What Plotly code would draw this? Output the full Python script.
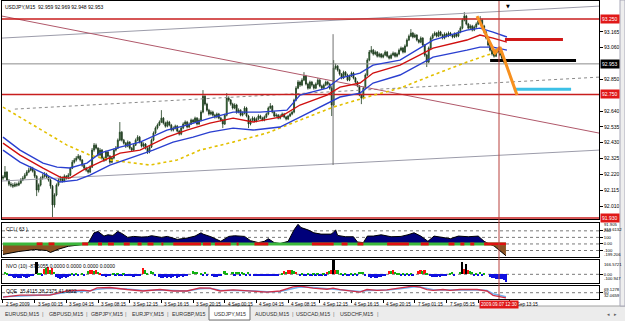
import plotly.graph_objects as go

# ---------------- data ----------------
opens = [92.195, 92.202, 92.235, 92.182, 92.155, 92.149, 92.142, 92.155, 92.149, 92.162,
 92.182, 92.195, 92.215, 92.235, 92.248, 92.261, 92.241, 92.208, 92.116, 92.149,
 92.195, 92.208, 92.221, 92.202, 92.182, 92.142, 92.017, 92.083, 92.149, 92.182,
 92.195, 92.175, 92.208, 92.195, 92.215, 92.261, 92.301, 92.315, 92.328, 92.341,
 92.315, 92.281, 92.261, 92.248, 92.235, 92.268, 92.381, 92.414, 92.394, 92.348,
 92.381, 92.328, 92.315, 92.368, 92.341, 92.301, 92.328, 92.381, 92.394, 92.447,
 92.500, 92.447, 92.427, 92.407, 92.434, 92.394, 92.381, 92.414, 92.447, 92.467,
 92.434, 92.407, 92.421, 92.394, 92.368, 92.401, 92.447, 92.494, 92.527, 92.547,
 92.567, 92.593, 92.560, 92.540, 92.567, 92.547, 92.514, 92.527, 92.540, 92.507,
 92.487, 92.527, 92.554, 92.567, 92.534, 92.554, 92.580, 92.567, 92.593, 92.554,
 92.580, 92.633, 92.739, 92.686, 92.646, 92.620, 92.633, 92.613, 92.600, 92.620,
 92.593, 92.580, 92.554, 92.613, 92.726, 92.713, 92.686, 92.660, 92.680, 92.633,
 92.646, 92.613, 92.626, 92.660, 92.607, 92.554, 92.580, 92.593, 92.573, 92.587,
 92.607, 92.593, 92.580, 92.600, 92.620, 92.660, 92.673, 92.633, 92.607, 92.613,
 92.593, 92.607, 92.620, 92.600, 92.587, 92.607, 92.620, 92.633, 92.713, 92.792,
 92.832, 92.812, 92.845, 92.872, 92.819, 92.792, 92.832, 92.812, 92.792, 92.819,
 92.845, 92.806, 92.792, 92.812, 92.832, 92.819, 92.792, 92.680, 92.925, 92.938,
 92.912, 92.885, 92.859, 92.898, 92.879, 92.845, 92.872, 92.892, 92.859, 92.832,
 92.806, 92.746, 92.726, 92.792, 92.879, 92.978, 93.031, 93.044, 93.018, 93.031,
 93.004, 93.018, 92.998, 93.011, 93.031, 93.004, 92.991, 93.011, 93.024, 93.004,
 93.018, 93.044, 93.058, 93.031, 93.071, 93.111, 93.137, 93.157, 93.131, 93.144,
 93.111, 93.097, 93.124, 93.078, 93.011, 92.965, 93.058, 93.124, 93.144, 93.157,
 93.137, 93.164, 93.144, 93.124, 93.151, 93.137, 93.157, 93.144, 93.131, 93.151,
 93.137, 93.164, 93.190, 93.243, 93.270, 93.217, 93.190, 93.204, 93.177, 93.197,
 93.217, 93.237, 93.243, 93.204, 93.164, 93.124, 93.078, 93.044, 93.018, 93.004,
 93.044, 93.031, 93.011, 92.991, 92.959]

highs = [92.215, 92.275, 92.241, 92.188, 92.168, 92.162, 92.168, 92.165, 92.175, 92.195,
 92.208, 92.228, 92.248, 92.265, 92.275, 92.270, 92.250, 92.215, 92.160, 92.205,
 92.225, 92.235, 92.230, 92.210, 92.190, 92.150, 92.095, 92.160, 92.195, 92.210,
 92.205, 92.220, 92.215, 92.228, 92.270, 92.315, 92.328, 92.341, 92.355, 92.348,
 92.322, 92.290, 92.270, 92.258, 92.280, 92.395, 92.428, 92.425, 92.400, 92.395,
 92.388, 92.338, 92.378, 92.375, 92.348, 92.340, 92.392, 92.408, 92.458, 92.567,
 92.508, 92.455, 92.435, 92.445, 92.440, 92.402, 92.425, 92.458, 92.480, 92.475,
 92.440, 92.432, 92.428, 92.400, 92.412, 92.458, 92.505, 92.538, 92.558, 92.578,
 92.646, 92.600, 92.570, 92.578, 92.575, 92.555, 92.538, 92.550, 92.548, 92.515,
 92.538, 92.565, 92.578, 92.575, 92.565, 92.590, 92.588, 92.603, 92.600, 92.592,
 92.645, 92.779, 92.745, 92.695, 92.655, 92.645, 92.642, 92.622, 92.630, 92.628,
 92.602, 92.588, 92.622, 92.759, 92.738, 92.720, 92.695, 92.692, 92.688, 92.658,
 92.652, 92.638, 92.672, 92.668, 92.615, 92.590, 92.605, 92.602, 92.598, 92.618,
 92.615, 92.602, 92.610, 92.630, 92.670, 92.693, 92.680, 92.640, 92.625, 92.620,
 92.618, 92.630, 92.628, 92.608, 92.615, 92.630, 92.642, 92.722, 92.805, 92.845,
 92.842, 92.858, 92.898, 92.880, 92.828, 92.842, 92.840, 92.820, 92.830, 92.858,
 92.852, 92.815, 92.822, 92.842, 92.840, 92.828, 92.805, 92.978, 92.955, 92.945,
 92.920, 92.892, 92.908, 92.905, 92.888, 92.882, 92.902, 92.900, 92.866, 92.840,
 92.812, 92.755, 92.802, 92.890, 92.990, 93.045, 93.071, 93.052, 93.042, 93.038,
 93.028, 93.025, 93.022, 93.042, 93.038, 93.012, 93.022, 93.035, 93.032, 93.028,
 93.055, 93.068, 93.065, 93.082, 93.122, 93.148, 93.184, 93.165, 93.155, 93.150,
 93.118, 93.135, 93.130, 93.085, 93.020, 93.068, 93.135, 93.155, 93.168, 93.165,
 93.175, 93.172, 93.152, 93.162, 93.160, 93.168, 93.165, 93.152, 93.162, 93.160,
 93.175, 93.202, 93.255, 93.296, 93.278, 93.225, 93.215, 93.212, 93.208, 93.228,
 93.248, 93.270, 93.252, 93.212, 93.172, 93.132, 93.085, 93.052, 93.028, 93.055,
 93.052, 93.038, 93.018, 92.998, 92.969]

lows = [92.182, 92.195, 92.175, 92.142, 92.135, 92.129, 92.135, 92.138, 92.142, 92.155,
 92.175, 92.188, 92.208, 92.228, 92.241, 92.232, 92.195, 92.076, 92.100, 92.140,
 92.185, 92.198, 92.195, 92.172, 92.125, 91.937, 92.000, 92.075, 92.140, 92.170,
 92.165, 92.168, 92.185, 92.188, 92.208, 92.255, 92.292, 92.305, 92.320, 92.305,
 92.270, 92.250, 92.238, 92.225, 92.228, 92.262, 92.370, 92.385, 92.338, 92.340,
 92.318, 92.302, 92.308, 92.332, 92.290, 92.295, 92.320, 92.372, 92.388, 92.440,
 92.438, 92.418, 92.395, 92.400, 92.385, 92.370, 92.375, 92.408, 92.440, 92.425,
 92.398, 92.398, 92.385, 92.355, 92.360, 92.395, 92.440, 92.488, 92.518, 92.540,
 92.560, 92.550, 92.530, 92.532, 92.538, 92.505, 92.505, 92.518, 92.498, 92.478,
 92.480, 92.520, 92.545, 92.525, 92.528, 92.548, 92.558, 92.560, 92.545, 92.548,
 92.572, 92.625, 92.676, 92.636, 92.610, 92.612, 92.603, 92.590, 92.592, 92.585,
 92.570, 92.527, 92.548, 92.605, 92.702, 92.676, 92.650, 92.652, 92.622, 92.625,
 92.605, 92.605, 92.618, 92.598, 92.527, 92.545, 92.572, 92.565, 92.565, 92.580,
 92.585, 92.572, 92.572, 92.592, 92.612, 92.652, 92.625, 92.598, 92.598, 92.585,
 92.585, 92.600, 92.592, 92.578, 92.580, 92.600, 92.612, 92.625, 92.705, 92.785,
 92.800, 92.805, 92.838, 92.810, 92.782, 92.785, 92.802, 92.782, 92.785, 92.812,
 92.798, 92.782, 92.785, 92.805, 92.810, 92.782, 92.607, 92.672, 92.915, 92.902,
 92.875, 92.850, 92.852, 92.870, 92.838, 92.838, 92.865, 92.850, 92.822, 92.798,
 92.738, 92.686, 92.718, 92.785, 92.872, 92.970, 93.022, 93.008, 93.010, 92.995,
 92.995, 92.990, 92.990, 93.004, 92.995, 92.982, 92.984, 93.004, 92.995, 92.996,
 93.010, 93.036, 93.022, 93.024, 93.064, 93.104, 93.130, 93.122, 93.124, 93.102,
 93.088, 93.090, 93.068, 93.000, 92.932, 92.958, 93.050, 93.116, 93.136, 93.128,
 93.130, 93.136, 93.115, 93.116, 93.128, 93.130, 93.136, 93.122, 93.124, 93.128,
 93.130, 93.156, 93.182, 93.235, 93.208, 93.180, 93.182, 93.168, 93.170, 93.190,
 93.210, 93.228, 93.195, 93.155, 93.115, 93.068, 93.035, 93.008, 92.995, 92.998,
 93.022, 93.002, 92.982, 92.955, 92.948]

closes = [92.202, 92.235, 92.182, 92.155, 92.149, 92.142, 92.155, 92.149, 92.162, 92.182,
 92.195, 92.215, 92.235, 92.248, 92.261, 92.241, 92.208, 92.116, 92.149, 92.195,
 92.208, 92.221, 92.202, 92.182, 92.142, 92.017, 92.083, 92.149, 92.182, 92.195,
 92.175, 92.208, 92.195, 92.215, 92.261, 92.301, 92.315, 92.328, 92.341, 92.315,
 92.281, 92.261, 92.248, 92.235, 92.268, 92.381, 92.414, 92.394, 92.348, 92.381,
 92.328, 92.315, 92.368, 92.341, 92.301, 92.328, 92.381, 92.394, 92.447, 92.500,
 92.447, 92.427, 92.407, 92.434, 92.394, 92.381, 92.414, 92.447, 92.467, 92.434,
 92.407, 92.421, 92.394, 92.368, 92.401, 92.447, 92.494, 92.527, 92.547, 92.567,
 92.593, 92.560, 92.540, 92.567, 92.547, 92.514, 92.527, 92.540, 92.507, 92.487,
 92.527, 92.554, 92.567, 92.534, 92.554, 92.580, 92.567, 92.593, 92.554, 92.580,
 92.633, 92.739, 92.686, 92.646, 92.620, 92.633, 92.613, 92.600, 92.620, 92.593,
 92.580, 92.554, 92.613, 92.726, 92.713, 92.686, 92.660, 92.680, 92.633, 92.646,
 92.613, 92.626, 92.660, 92.607, 92.554, 92.580, 92.593, 92.573, 92.587, 92.607,
 92.593, 92.580, 92.600, 92.620, 92.660, 92.673, 92.633, 92.607, 92.613, 92.593,
 92.607, 92.620, 92.600, 92.587, 92.607, 92.620, 92.633, 92.713, 92.792, 92.832,
 92.812, 92.845, 92.872, 92.819, 92.792, 92.832, 92.812, 92.792, 92.819, 92.845,
 92.806, 92.792, 92.812, 92.832, 92.819, 92.792, 92.680, 92.925, 92.938, 92.912,
 92.885, 92.859, 92.898, 92.879, 92.845, 92.872, 92.892, 92.859, 92.832, 92.806,
 92.746, 92.726, 92.792, 92.879, 92.978, 93.031, 93.044, 93.018, 93.031, 93.004,
 93.018, 92.998, 93.011, 93.031, 93.004, 92.991, 93.011, 93.024, 93.004, 93.018,
 93.044, 93.058, 93.031, 93.071, 93.111, 93.137, 93.157, 93.131, 93.144, 93.111,
 93.097, 93.124, 93.078, 93.011, 92.965, 93.058, 93.124, 93.144, 93.157, 93.137,
 93.164, 93.144, 93.124, 93.151, 93.137, 93.157, 93.144, 93.131, 93.151, 93.137,
 93.164, 93.190, 93.243, 93.270, 93.217, 93.190, 93.204, 93.177, 93.197, 93.217,
 93.237, 93.243, 93.204, 93.164, 93.124, 93.078, 93.044, 93.018, 93.004, 93.044,
 93.031, 93.011, 92.991, 92.965, 92.953]

bar_idx = list(range(len(closes)))

# moving averages / envelope (read at sample bars)
ma_yellow_x = [0, 15.2, 32.3, 43.9, 54, 74.2, 87.9, 99.5, 116.2, 133.3, 150, 166.7, 183.8, 200.5, 217.2, 234.3, 247.5, 253.5]
ma_yellow_y = [92.666, 92.547, 92.414, 92.348, 92.315, 92.282, 92.315, 92.381, 92.434, 92.494, 92.580, 92.666, 92.733, 92.792, 92.879, 92.965, 93.024, 93.031]

ma_red_x = [0, 8.6, 20.2, 28.8, 33.8, 40.4, 49, 59.1, 69.2, 82.8, 92.9, 104.5, 116.2, 126.3, 139.9, 150, 163.6, 170.2, 180.3, 186.9, 200.5, 217.2, 234.3, 240.9, 247.5, 254.5]
ma_red_y = [92.427, 92.348, 92.262, 92.202, 92.195, 92.248, 92.301, 92.361, 92.381, 92.467, 92.514, 92.560, 92.593, 92.567, 92.600, 92.680, 92.746, 92.799, 92.826, 92.892, 92.945, 93.058, 93.111, 93.144, 93.124, 93.097]

band_up_x = [0, 8.6, 20.2, 27.3, 33.8, 42.4, 49, 59.1, 69.2, 82.8, 92.9, 104.5, 116.2, 129.8, 143.4, 150, 163.6, 170.2, 180.3, 186.9, 200.5, 217.2, 234.3, 240.9, 247.5, 254.5]
band_up_y = [92.467, 92.381, 92.295, 92.268, 92.262, 92.295, 92.361, 92.401, 92.434, 92.514, 92.547, 92.593, 92.633, 92.633, 92.646, 92.746, 92.792, 92.859, 92.892, 92.945, 92.978, 93.111, 93.177, 93.190, 93.164, 93.131]

band_dn_x = [0, 8.6, 20.2, 28.8, 37.4, 43.9, 54, 65.6, 75.8, 85.9, 96, 104.5, 116.2, 126.3, 139.9, 150, 163.6, 170.2, 180.3, 186.9, 200.5, 217.2, 234.3, 240.9, 247.5, 254.5]
band_dn_y = [92.381, 92.301, 92.229, 92.169, 92.182, 92.215, 92.282, 92.335, 92.381, 92.434, 92.467, 92.500, 92.527, 92.514, 92.534, 92.600, 92.693, 92.733, 92.759, 92.826, 92.879, 92.998, 93.044, 93.064, 93.064, 93.044]

# drawn objects (bar index / price)
desc_line_x = [-0.5, 301]
desc_line_y = [93.270, 92.494]
chan_up_x = [-0.5, 301]
chan_up_y = [93.124, 93.336]
chan_dn_x = [-0.5, 301]
chan_dn_y = [92.176, 92.381]
chan_mid_x = [6, 301]
chan_mid_y = [92.653, 92.865]
level_prices = [93.250, 92.750, 91.930]
level_labels = ["93.250", "92.750", "91.930"]
red_seg_x = [253.5, 282.8]
red_seg_y = [93.115, 93.115]
black_seg_x = [246, 289.4]
black_seg_y = [92.975, 92.975]
cyan_seg_x = [258, 286.9]
cyan_seg_y = [92.785, 92.785]
orange_x = [239.4, 248.5, 251, 259.6]
orange_y = [93.270, 93.025, 93.064, 92.746]
vline_x = [166.7, 166.7]
vline_y = [93.150, 92.282]
cross_idx = 250.5
last_price = 92.953

price_tickvals = [92.010, 92.115, 92.220, 92.325, 92.430, 92.535, 92.640, 92.850, 93.060, 93.165]
price_ticktext = ["92.010", "92.115", "92.220", "92.325", "92.430", "92.535", "92.640", "92.850", "93.060", "93.165"]

time_tick_idx = [0, 16, 32, 48, 64, 80, 96, 112, 128, 144, 160, 176, 192, 208, 224, 240, 256]
time_tick_text = ["2 Sep 2009", "3 Sep 00:15", "3 Sep 04:15", "3 Sep 08:15", "3 Sep 12:15", "3 Sep 16:15",
                  "3 Sep 20:15", "4 Sep 00:15", "4 Sep 04:15", "4 Sep 08:15", "4 Sep 12:15", "4 Sep 16:15",
                  "4 Sep 20:15", "7 Sep 01:15", "7 Sep 05:15", "7 Sep 09:15", "7 Sep 13:15"]

# CCI(63)
cci_idx = [0, 8, 16, 22, 24, 28, 33, 39, 42, 43, 46, 48, 51, 53, 55.5, 58, 60, 63, 66, 70,
           73, 75, 80, 83, 88, 93, 97, 100, 101, 105, 110, 114, 117, 122, 125, 129, 132, 134, 137, 140,
           144, 147, 149, 150.5, 154, 157, 160.6, 165.7, 167, 168, 169, 173, 177, 179, 182, 184, 187, 191, 196, 201,
           204.5, 207.6, 211, 214.6, 217.7, 222.7, 226, 230, 235, 240, 243, 245.5, 248, 251.5, 254]
cci_val = [-160, -115, -85, -100, -130, -80, -35, -10, -5, 10, 170, 190, 120, 140, 130, 190, 160, 100, 115, 105,
           110, 126, 100, 115, 70, 90, 120, 170, 150, 110, 40, 115, 125, 115, 50, 20, 40, 80, 20, 5,
           40, 215, 300, 250, 215, 170, 150, 150, 180, 215, 130, 110, 110, 30, 20, 120, 120, 140, 110, 115,
           140, 170, 120, 40, 120, 100, 80, 120, 110, 120, 40, 0, -30, -110, -180]
cci_red_start = [17, 23, 40, 48, 53, 61, 68, 73, 80, 86, 101, 107, 118, 127, 156, 171, 179, 194, 211, 225, 231, 236, 243]
cci_red_end = [20, 26, 43, 50, 56, 64, 70, 76, 81, 100, 105, 115, 119, 134, 167, 174, 182, 205, 215, 228, 233, 238, 254]
cci_levels = [200, 100, 0, -100]
cci_tickvals = [200, 100, 0, -100]
cci_ticktext = ["200", "100", "0.00", "-100"]
cci_max_label, cci_min_label = "319.6132", "-199.206"

# NVO(10)
nvo_idx = [1, 2, 3, 4, 5, 6, 7, 8, 9, 10, 11, 12, 13, 14, 15, 17, 18, 19, 20,
           21, 22, 23, 24, 25, 26, 27, 28, 29, 30, 31, 32, 33, 34, 35, 36, 37, 38, 40, 41,
           43, 44, 45, 46, 47, 48, 49, 50, 51, 52, 53, 54, 56, 57, 58, 59, 60, 61, 62,
           63, 64, 65, 66, 67, 68, 69, 71, 72, 73, 75, 76, 77,
           79, 80, 81, 82, 83, 84, 85, 86, 87, 88, 89, 90, 91, 92, 93, 96, 97, 98,
           100, 101, 102, 103, 106, 107, 108, 109, 110, 112, 113,
           116, 117, 118, 119, 120, 121, 122, 123, 124, 125,
           127, 128, 129, 130, 131, 132, 133, 134, 135, 136, 137, 138, 139,
           141, 142, 143, 144, 145, 146, 147, 148,
           150, 151, 152, 153, 154, 155, 156, 157, 158, 159, 160, 161, 162, 163, 164, 165,
           166, 167, 168, 169, 171, 172, 173, 174, 175, 176, 177, 178, 179, 180, 181, 182, 183,
           185, 186, 187, 188, 189, 190, 191, 192, 193, 195, 196, 197, 198, 199,
           200, 201, 202, 203, 204, 205, 206, 207, 210, 211, 212, 213, 214,
           216, 217, 218, 219, 220, 221, 222, 223, 224, 226, 227, 228,
           231, 232, 233, 234, 235, 236, 237, 238, 239, 240, 241, 242, 243,
           246, 247, 248, 249, 250, 251, 252, 253, 254]
nvo_val = [25, 20, -15, -20, -35, -40, -30, -45, -40, -25, -35, -40, -30, -20, -25, 140, 20, 15, -10,
           60, 75, 90, 50, 70, 30, -30, -45, -50, -40, -35, -45, -30, -20, 15, -15, 20, -10, 15, -15,
           40, 55, 50, 35, 55, 30, 20, -25, -20, -30, -20, -15, 15, -20, 20, -25, -20, 15, -15,
           -20, -25, -15, -30, -20, -25, -15, 75, 45, 20, 35, 30, -10,
           -30, -40, -45, -35, -40, -30, -45, -35, -25, -40, -30, -20, -35, -25, -15, 35, 30, 25,
           20, -15, 25, -15, -25, -30, -30, -20, -25, 40, 20,
           25, -10, 30, 25, -15, 30, 20, -10, 25, -15,
           -20, -25, -15, -20, -25, -20, -15, -25, -20, -15, -20, -10, -15,
           20, 40, 30, 50, 45, 55, 35, 30,
           -15, 15, -20, -25, 15, -15, -20, 20, -15, 15, -20, -15, 20, -10, 30, 40,
           55, 166, 50, 45, 15, -15, 20, -15, -20, 15, -10, 20, -15, 30, 25, 30, -10,
           -30, -40, -35, -45, -40, -30, -35, -25, -20, 40, 35, 45, 30, 20,
           15, -15, 20, -20, 15, -15, 20, -10, 40, 50, 35, 45, 20,
           -25, -30, -35, -30, -25, -30, -20, -25, -15, 20, 25, -10,
           30, 140, 60, 120, 50, 40, 25, -15, 20, -15, 25, -20, 15,
           -30, -40, -45, -50, -55, -60, -50, -70, -87]
nvo_col = list("ggbbbbbbbbbbbbbkggb"
               "rgrgrgbbbbbbbbgbgbgb"
               "grrgrgrbbbbbgbgbbgb"
               "bbbbbbbrggggb"
               "bbbbbbbbbbbbbbbggg"
               "gbgbbbbbbgg"
               "gbggbggbgb"
               "bbbbbbbbbbbbb"
               "grgrrggr"
               "bgbbgbbgbgbbgbrg"
               "rkrggbgbbgbgbgggb"
               "bbbbbbbbbrgrgg"
               "gbgbgbgbrrgrg"
               "bbbbbbbbbggb"
               "gkrkrggbgbgbg"
               "bbbbbbbbb")
nvo_tickvals = [0]
nvo_ticktext = ["0.00"]
nvo_max_label, nvo_min_label = "166.5721", "-100.947"

# QQE
qqe_idx = [0, 8.6, 23.7, 32.3, 40.4, 43.9, 47.5, 54, 62.6, 70.7, 79.3, 85.9, 92.9, 99.5, 104.5, 109.6,
           116.2, 124.7, 133.3, 139.9, 146.5, 150, 156.6, 163.6, 166.7, 170.2, 176.8, 180.3, 183.8, 188.9,
           193.9, 200.5, 204, 207.1, 210.6, 214.1, 217.2, 222.2, 225.8, 230.8, 239.4, 244.4, 247.5, 251, 254]
qqe_rsi = [37.5, 43.3, 43.3, 54.9, 57.4, 54.9, 64.0, 64.9, 59.1, 54.9, 59.1, 54.9, 54.9, 64.0, 63.2, 54.9,
           58.2, 54.9, 51.6, 54.9, 66.5, 69.0, 63.2, 59.9, 63.2, 59.1, 54.9, 51.6, 59.1, 56.6,
           58.2, 63.2, 66.5, 69.0, 65.7, 59.1, 56.6, 59.1, 56.6, 59.1, 59.1, 54.9, 42.5, 38.3, 35.4]
qqe_trail = [38.5, 41.0, 44.0, 51.0, 55.5, 55.5, 60.0, 63.0, 60.5, 56.5, 57.5, 56.0, 55.0, 61.0, 62.5, 57.0,
             57.0, 55.5, 53.0, 53.5, 62.0, 66.5, 64.5, 61.5, 61.5, 60.0, 56.5, 53.5, 56.5, 57.0,
             57.5, 61.0, 64.0, 66.5, 66.0, 61.5, 58.5, 58.0, 57.5, 58.0, 58.5, 56.5, 47.0, 41.7, 38.2]
qqe_tickvals = [50]
qqe_ticktext = ["50"]
qqe_max_label, qqe_min_label = "69.1278", "32.0659"

tab_labels = ["EURUSD,M15", "GBPUSD,M15", "GBPJPY,M15", "EURJPY,M15", "EURGBP,M15",
              "USDJPY,M15", "AUDUSD,M15", "USDCAD,M15", "USDCHF,M15"]

# ---------------- layout helpers (pixel geometry) ----------------
W, H = 625, 321
ML, MR, MT, MB = 2, 26, 1, 22
PW, PH = W - ML - MR, H - MT - MB


def fx(p):
    return (p - ML) / PW


def fy(p):
    return (H - MB - p) / PH


FONT = "Liberation Sans"
fig = go.Figure()

# ---- main panel ----
for lx, ly, col, dash, wd in [
    (chan_up_x, chan_up_y, "#9c9caa", "solid", 1),
    (chan_dn_x, chan_dn_y, "#9c9caa", "solid", 1),
    (chan_mid_x, chan_mid_y, "#8a8a8a", "dot", 1),
    (desc_line_x, desc_line_y, "#b0586a", "solid", 1),
]:
    fig.add_trace(go.Scatter(x=lx, y=ly, mode="lines", line=dict(color=col, dash=dash, width=wd),
                             xaxis="x", yaxis="y", hoverinfo="skip", showlegend=False))

for lv in level_prices:
    fig.add_trace(go.Scatter(x=[-0.5, 301], y=[lv, lv], mode="lines", line=dict(color="#c81e1e", width=1.5),
                             xaxis="x", yaxis="y", hoverinfo="skip", showlegend=False))

fig.add_trace(go.Scatter(x=[-0.5, 301], y=[last_price, last_price], mode="lines",
                         line=dict(color="#8c8c8c", width=1), xaxis="x", yaxis="y",
                         hoverinfo="skip", showlegend=False))
fig.add_trace(go.Scatter(x=vline_x, y=vline_y, mode="lines", line=dict(color="#707070", width=1),
                         xaxis="x", yaxis="y", hoverinfo="skip", showlegend=False))

fig.add_trace(go.Scatter(x=ma_yellow_x, y=ma_yellow_y, mode="lines", line=dict(color="#e3c000", width=1.6, dash="dot"),
                         xaxis="x", yaxis="y", hoverinfo="skip", showlegend=False))

fig.add_trace(go.Candlestick(x=bar_idx, open=opens, high=highs, low=lows, close=closes,
                             xaxis="x", yaxis="y", whiskerwidth=0,
                             increasing=dict(line=dict(color="#1c3a1c", width=0.8), fillcolor="#3f8f3f"),
                             decreasing=dict(line=dict(color="#1c3a1c", width=0.8), fillcolor="#102010"),
                             hoverinfo="skip", showlegend=False))

for lx, ly, col in [(band_up_x, band_up_y, "#2a3fd0"), (ma_red_x, ma_red_y, "#d01010"), (band_dn_x, band_dn_y, "#2a3fd0")]:
    fig.add_trace(go.Scatter(x=lx, y=ly, mode="lines", line=dict(color=col, width=1.4),
                             xaxis="x", yaxis="y", hoverinfo="skip", showlegend=False))

for lx, ly, col in [(black_seg_x, black_seg_y, "#000000"), (red_seg_x, red_seg_y, "#d01818"), (cyan_seg_x, cyan_seg_y, "#3cc0e6")]:
    fig.add_trace(go.Scatter(x=lx, y=ly, mode="lines", line=dict(color=col, width=3),
                             xaxis="x", yaxis="y", hoverinfo="skip", showlegend=False))

fig.add_trace(go.Scatter(x=orange_x, y=orange_y, mode="lines", line=dict(color="#f7901e", width=3),
                         xaxis="x", yaxis="y", hoverinfo="skip", showlegend=False))

# ---- CCI panel ----
cci_pos = [max(v, 0) for v in cci_val]
cci_neg = [min(v, 0) for v in cci_val]
fig.add_trace(go.Scatter(x=cci_idx, y=cci_pos, mode="lines", fill="tozeroy", fillcolor="#00007a",
                         line=dict(color="#000000", width=1), xaxis="x2", yaxis="y2", hoverinfo="skip", showlegend=False))
fig.add_trace(go.Scatter(x=cci_idx, y=cci_neg, mode="lines", fill="tozeroy", fillcolor="#8a5424",
                         line=dict(color="#000000", width=1), xaxis="x2", yaxis="y2", hoverinfo="skip", showlegend=False))
fig.add_trace(go.Scatter(x=[0, 254], y=[0, 0], mode="lines", line=dict(color="#3cb83c", width=3),
                         xaxis="x2", yaxis="y2", hoverinfo="skip", showlegend=False))
seg_x, seg_y = [], []
for s, e in zip(cci_red_start, cci_red_end):
    seg_x += [s, e, None]
    seg_y += [0, 0, None]
fig.add_trace(go.Scatter(x=seg_x, y=seg_y, mode="lines", line=dict(color="#e01010", width=3),
                         xaxis="x2", yaxis="y2", hoverinfo="skip", showlegend=False))

# ---- NVO panel ----
cmap = {"g": "#10b010", "r": "#ff1010", "b": "#1010e0", "k": "#000000"}
fig.add_trace(go.Bar(x=nvo_idx, y=nvo_val, marker=dict(color=[cmap[c] for c in nvo_col], line=dict(width=0)),
                     width=0.9, xaxis="x3", yaxis="y3", hoverinfo="skip", showlegend=False))

# ---- QQE panel ----
fig.add_trace(go.Scatter(x=qqe_idx, y=qqe_trail, mode="lines", line=dict(color="#6fb4f0", width=1.5),
                         xaxis="x4", yaxis="y4", hoverinfo="skip", showlegend=False))
fig.add_trace(go.Scatter(x=qqe_idx, y=qqe_rsi, mode="lines", line=dict(color="#d0304a", width=1.3),
                         xaxis="x4", yaxis="y4", hoverinfo="skip", showlegend=False))

# ---------------- axes ----------------
tickfont = dict(family=FONT, size=5, color="#000000")
tickfont_small = dict(family=FONT, size=4.2, color="#000000")
xcommon = dict(range=[-0.5, 301], showgrid=False, zeroline=False, showline=True, mirror=True,
               linecolor="#000000", linewidth=1, fixedrange=True, domain=[0, 1])
ycommon = dict(showgrid=False, zeroline=False, showline=True, mirror=True, linecolor="#000000", linewidth=1,
               side="right", ticks="outside", ticklen=3, tickcolor="#000000", fixedrange=True)

layout = dict(
    width=W, height=H, margin=dict(l=ML, r=MR, t=MT, b=MB),
    paper_bgcolor="#ffffff", plot_bgcolor="#ffffff", showlegend=False, bargap=0,
    xaxis=dict(**xcommon, anchor="y", showticklabels=False, ticks="", rangeslider=dict(visible=False)),
    xaxis2=dict(**xcommon, anchor="y2", matches="x", showticklabels=False, ticks=""),
    xaxis3=dict(**xcommon, anchor="y3", matches="x", showticklabels=False, ticks=""),
    xaxis4=dict(**xcommon, anchor="y4", matches="x", showticklabels=False, ticks="outside", ticklen=3,
                tickcolor="#000000", tickvals=time_tick_idx),
    yaxis=dict(**ycommon, anchor="x", domain=[fy(219), fy(MT)], range=[91.924, 93.370],
               tickvals=price_tickvals, ticktext=price_ticktext, tickfont=tickfont),
    yaxis2=dict(**ycommon, anchor="x2", domain=[fy(257), fy(223)], range=[-199.206, 319.6132],
                tickvals=cci_tickvals, ticktext=cci_ticktext, tickfont=tickfont_small),
    yaxis3=dict(**ycommon, anchor="x3", domain=[fy(283), fy(260)], range=[-100.947, 166.5721],
                tickvals=nvo_tickvals, ticktext=nvo_ticktext, tickfont=tickfont_small),
    yaxis4=dict(**ycommon, anchor="x4", domain=[0, fy(286)], range=[32.0659, 69.1278],
                tickvals=qqe_tickvals, ticktext=qqe_ticktext, tickfont=tickfont_small),
)
fig.update_layout(**layout)

shapes = []
for lv in cci_levels:
    shapes.append(dict(type="line", xref="x2 domain", yref="y2", x0=0, x1=1, y0=lv, y1=lv,
                       line=dict(color="#7a7a7a", width=1, dash="dot"), layer="below"))
shapes.append(dict(type="line", xref="x3 domain", yref="y3", x0=0, x1=1, y0=0, y1=0,
                   line=dict(color="#7a7a7a", width=1, dash="dot"), layer="below"))
shapes.append(dict(type="line", xref="x4 domain", yref="y4", x0=0, x1=1, y0=50, y1=50,
                   line=dict(color="#7a7a7a", width=1, dash="dot"), layer="below"))
shapes.append(dict(type="line", xref="x", yref="paper", x0=cross_idx, x1=cross_idx, y0=0, y1=1,
                   line=dict(color="#b8403c", width=1)))
shapes.append(dict(type="rect", xref="paper", yref="paper", x0=fx(0), x1=fx(W), y0=fy(H), y1=fy(306),
                   fillcolor="#ececec", line=dict(width=0)))
shapes.append(dict(type="line", xref="paper", yref="paper", x0=fx(0), x1=fx(W), y0=fy(306), y1=fy(306),
                   line=dict(color="#a0a0a0", width=1)))
shapes.append(dict(type="rect", xref="paper", yref="paper", x0=fx(209), x1=fx(250), y0=fy(320), y1=fy(306),
                   fillcolor="#ffffff", line=dict(color="#707070", width=1)))
shapes.append(dict(type="rect", xref="paper", yref="paper", x0=fx(620), x1=fx(W), y0=fy(306), y1=fy(0),
                   fillcolor="#eeeeee", line=dict(color="#a8a8b8", width=1)))
fig.update_layout(shapes=shapes)

ann = []
small = dict(family=FONT, size=5, color="#000000")
tiny = dict(family=FONT, size=4.2, color="#000000")
ann.append(dict(text="USDJPY,M15  92.959 92.969 92.948 92.953", xref="paper", yref="paper", x=fx(3), y=fy(2),
                xanchor="left", yanchor="top", showarrow=False, font=small))
ann.append(dict(text="CCI ( 63 )", xref="paper", yref="paper", x=fx(4), y=fy(224),
                xanchor="left", yanchor="top", showarrow=False, font=small))
ann.append(dict(text="NVO (10) -87.6055 0.0000 0.0000 0.0000 0.0000", xref="paper", yref="paper", x=fx(4), y=fy(260.5),
                xanchor="left", yanchor="top", showarrow=False, font=small))
ann.append(dict(text="QQE  35.4115 38.2375 41.6822", xref="paper", yref="paper", x=fx(4), y=fy(286),
                xanchor="left", yanchor="top", showarrow=False, font=small))
# panel max/min labels (inside panel edges, as in MT4)
for lab, ypix, anc in [(cci_max_label, 224.5, "top"), (cci_min_label, 258.5, "bottom"),
                       (nvo_max_label, 260, "top"), (nvo_min_label, 283, "bottom"),
                       (qqe_max_label, 285.3, "top"), (qqe_min_label, 300, "bottom")]:
    ann.append(dict(text=lab, xref="paper", yref="paper", x=1, y=fy(ypix), xanchor="left", yanchor=anc, xshift=3,
                    showarrow=False, font=tiny))
# price boxes
for lv, lab in zip(level_prices, level_labels):
    ann.append(dict(text=lab, xref="paper", yref="y", x=1, y=lv, xanchor="left", yanchor="middle", xshift=1,
                    showarrow=False, bgcolor="#e01818", borderpad=1,
                    font=dict(family=FONT, size=5, color="#ffffff")))
ann.append(dict(text="92.953", xref="paper", yref="y", x=1, y=last_price, xanchor="left", yanchor="middle", xshift=1,
                showarrow=False, bgcolor="#000000", borderpad=1, font=dict(family=FONT, size=5, color="#ffffff")))
ann.append(dict(text="91.905", xref="paper", yref="paper", x=1, y=fy(220.2), xanchor="left", yanchor="top", xshift=3,
                showarrow=False, font=tiny))
# time labels
for ti, tt in zip(time_tick_idx, time_tick_text):
    ann.append(dict(text=tt, xref="x4", yref="paper", x=ti, y=fy(300), xanchor="left", yanchor="top", xshift=1,
                    showarrow=False, font=dict(family=FONT, size=4.6, color="#000000")))
ann.append(dict(text="2009.09.07 12:30", xref="x4", yref="paper", x=cross_idx, y=fy(299.5), xanchor="center",
                yanchor="top", showarrow=False, bgcolor="#e01818", borderpad=1,
                font=dict(family=FONT, size=4.6, color="#ffffff")))
ann.append(dict(text="▼", xref="x", yref="paper", x=255, y=1, xanchor="center", yanchor="top", showarrow=False,
                font=dict(family="DejaVu Sans", size=5, color="#000000")))
# tabs
tab_centers = [21.5, 65.5, 107, 147.5, 188.5, 229.5, 272, 313, 357]
for lab, cx in zip(tab_labels, tab_centers):
    ann.append(dict(text=lab, xref="paper", yref="paper", x=fx(cx), y=fy(313.5), xanchor="center", yanchor="middle",
                    showarrow=False, font=dict(family=FONT, size=5.3, color="#303030")))
for sx in [43, 87, 126, 168, 293, 334, 378]:
    ann.append(dict(text="|", xref="paper", yref="paper", x=fx(sx), y=fy(313.5), xanchor="center", yanchor="middle",
                    showarrow=False, font=dict(family=FONT, size=6, color="#808080")))
for sx, ch in [(608, "◂"), (615, "▸")]:
    ann.append(dict(text=ch, xref="paper", yref="paper", x=fx(sx), y=fy(313.5), xanchor="center", yanchor="middle",
                    showarrow=False, font=dict(family="DejaVu Sans", size=5, color="#606060")))
fig.update_layout(annotations=ann)

fig.write_html("out.html")
